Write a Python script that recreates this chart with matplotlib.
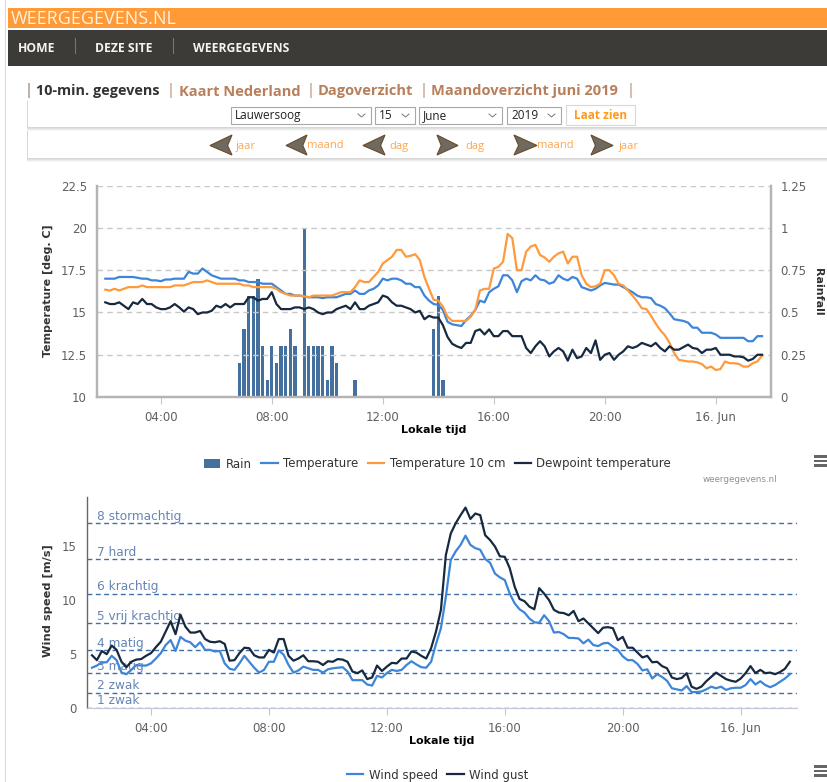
import numpy as np
import matplotlib
matplotlib.use("Agg")
import matplotlib.pyplot as plt
from matplotlib.patches import Rectangle, Polygon

W, H = 828, 782

# local time in hours, one value every 10 min from 02:00 (24 = midnight)
times = np.arange(143) / 6 + 2

temperature = [
    17.0, 17.0, 17.0, 17.1, 17.1, 17.1,
    17.1, 17.05, 17.0, 17.0, 16.9, 16.9,
    16.85, 16.95, 16.95, 17.0, 17.0, 17.0,
    17.4, 17.3, 17.3, 17.6, 17.4, 17.2,
    17.1, 17.0, 17.0, 17.0, 17.0, 16.9,
    16.9, 16.8, 16.8, 16.8, 16.7, 16.7,
    16.7, 16.5, 16.3, 16.1, 16.1, 16.0,
    16.0, 15.95, 15.9, 15.9, 15.9, 15.85,
    15.9, 15.9, 15.9, 16.0, 16.1, 16.1,
    16.3, 16.1, 16.1, 16.3, 16.4, 16.6,
    17.0, 16.9, 17.0, 17.0, 16.9, 16.7,
    16.7, 16.5, 16.5, 16.0, 15.7, 15.5,
    15.45, 15.15, 14.45, 14.3, 14.25, 14.2,
    14.55, 14.8, 15.15, 15.7, 15.6, 16.2,
    16.4, 16.55, 17.2, 17.2, 16.9, 16.2,
    16.85, 17.0, 16.9, 17.2, 16.95, 16.9,
    16.7, 16.8, 17.2, 17.0, 16.9, 17.1,
    17.0, 16.5, 16.4, 16.3, 16.4, 16.6,
    16.75, 16.7, 16.65, 16.65, 16.5, 16.35,
    16.2, 16.0, 15.9, 15.9, 15.85, 15.5,
    15.4, 15.25, 14.95, 14.6, 14.55, 14.5,
    14.4, 14.1, 14.1, 13.8, 13.8, 13.8,
    13.7, 13.5, 13.5, 13.5, 13.5, 13.5,
    13.5, 13.3, 13.3, 13.6, 13.6,
]
temperature_10cm = [
    16.35, 16.3, 16.4, 16.3, 16.4, 16.5,
    16.5, 16.5, 16.6, 16.5, 16.5, 16.5,
    16.5, 16.5, 16.5, 16.6, 16.6, 16.6,
    16.7, 16.8, 16.8, 16.8, 16.9, 16.8,
    16.7, 16.7, 16.7, 16.7, 16.7, 16.7,
    16.6, 16.6, 16.5, 16.5, 16.5, 16.5,
    16.5, 16.4, 16.2, 16.1, 16.0, 16.0,
    16.0, 15.95, 15.9, 16.0, 16.0, 16.0,
    16.0, 16.0, 16.1, 16.2, 16.2, 16.2,
    16.5, 16.9, 16.8, 16.8, 17.1, 17.4,
    17.9, 18.1, 18.3, 18.7, 18.7, 18.3,
    18.35, 18.45, 18.1, 17.1, 16.4, 15.75,
    15.7, 15.35, 14.75, 14.5, 14.5, 14.5,
    14.5, 14.75, 15.15, 16.3, 16.4, 16.4,
    17.6, 17.7, 18.0, 19.65, 19.4, 17.5,
    17.5, 18.6, 18.9, 19.0, 18.4, 18.25,
    18.0, 18.3, 18.5, 18.6, 17.9, 18.3,
    18.3, 17.2, 16.7, 16.5, 16.55, 16.7,
    17.5, 17.5, 17.2, 16.7, 16.6, 16.3,
    16.0, 15.65, 15.25, 15.2, 14.8, 14.35,
    13.95, 13.65, 13.2, 12.6, 12.2, 12.15,
    12.1, 12.1, 12.05, 11.95, 11.7, 11.8,
    11.6, 11.65, 12.1, 12.0, 12.0, 11.95,
    11.8, 11.8, 12.0, 12.1, 12.45,
]
dewpoint = [
    15.6, 15.5, 15.5, 15.6, 15.4, 15.2,
    15.6, 15.5, 15.8, 15.5, 15.5, 15.3,
    15.2, 15.2, 15.3, 15.5, 15.3, 15.05,
    15.3, 15.2, 14.9, 15.0, 15.0, 15.1,
    15.4, 15.3, 15.5, 15.3, 15.5, 15.5,
    15.5, 15.9, 15.9, 15.7, 15.8, 15.8,
    16.2, 15.5, 15.2, 15.2, 15.2, 15.3,
    15.3, 15.2, 15.3, 15.2, 15.0, 14.9,
    15.0, 15.0, 15.2, 15.3, 15.4, 15.2,
    15.6, 15.2, 15.2, 15.4, 15.5, 15.6,
    16.0, 15.9, 15.6, 15.4, 15.4, 15.3,
    15.2, 15.0, 15.1, 14.6, 14.8, 14.7,
    14.7, 14.25, 13.55, 13.15, 13.0, 12.9,
    13.2, 13.2, 13.9, 14.0, 13.7, 14.0,
    13.6, 13.6, 13.9, 13.9, 13.6, 13.6,
    13.6, 12.9, 12.6, 13.0, 13.3, 13.0,
    12.4, 12.7, 12.9, 12.7, 12.15, 12.8,
    12.3, 12.4, 12.9, 12.6, 13.35, 12.2,
    12.5, 12.6, 12.2, 12.5, 12.7, 13.0,
    12.9, 13.0, 13.2, 13.1, 13.0, 13.2,
    12.9, 12.7, 13.0, 12.8, 12.8, 12.95,
    13.1, 12.9, 12.85, 12.6, 12.8, 12.8,
    12.9, 12.5, 12.5, 12.5, 12.4, 12.4,
    12.35, 12.15, 12.25, 12.5, 12.5,
]

rain_times = [6 + 50 / 60, 7, 7 + 10 / 60, 7 + 20 / 60, 7.5, 7 + 40 / 60, 7 + 50 / 60,
              8, 8 + 10 / 60, 8 + 20 / 60, 8.5, 8 + 40 / 60, 8 + 50 / 60,
              9 + 10 / 60, 9 + 20 / 60, 9.5, 9 + 40 / 60, 9 + 50 / 60,
              10, 10 + 10 / 60, 10 + 20 / 60, 11,
              13 + 50 / 60, 14, 14 + 10 / 60]
rain = [0.2, 0.4, 0.6, 0.6, 0.7, 0.3, 0.1,
        0.3, 0.2, 0.3, 0.3, 0.4, 0.3,
        1.0, 0.3, 0.3, 0.3, 0.3,
        0.1, 0.3, 0.2, 0.1,
        0.4, 0.6, 0.1]

wind_speed = [
    3.75, 3.95, 4.25, 4.25, 4.85, 4.45,
    3.3, 3.15, 3.55, 4.0, 3.95, 3.95,
    4.15, 4.6, 5.1, 5.85, 6.3, 5.3,
    6.6, 6.25, 6.1, 5.65, 6.1, 5.4,
    5.4, 5.25, 5.3, 4.15, 3.65, 3.55,
    4.15, 4.85, 4.3, 3.75, 3.3, 3.55,
    4.3, 4.3, 5.35, 4.95, 4.0, 3.3,
    3.5, 3.85, 3.7, 3.55, 3.55, 3.3,
    3.6, 3.7, 3.75, 3.8, 3.4, 2.6,
    2.6, 2.6, 2.2, 2.1, 3.0, 2.85,
    3.25, 3.55, 3.45, 3.55, 4.0, 4.35,
    4.05, 3.8, 3.75, 4.3, 5.95, 7.4,
    10.3, 13.7, 14.5, 15.1, 15.95, 15.1,
    14.8, 14.65, 13.8, 13.45, 12.45, 12.1,
    11.85, 10.6, 9.7, 9.15, 8.85, 8.3,
    7.95, 7.9, 8.6, 8.05, 7.0, 7.05,
    6.85, 6.5, 6.5, 6.45, 6.0, 6.35,
    5.85, 5.75, 6.0, 6.05, 5.7, 5.4,
    4.8, 4.45, 4.45, 4.1, 3.5, 3.6,
    2.75, 3.15, 2.9, 2.55, 1.85, 1.75,
    1.65, 2.05, 1.5, 1.5, 1.55, 1.75,
    2.0, 1.85, 2.0, 1.7, 1.85, 1.9,
    1.9, 2.15, 2.7, 2.2, 2.5, 2.15,
    1.95, 2.15, 2.45, 2.75, 3.15,
]
wind_gust = [
    4.9, 4.45, 5.3, 5.0, 5.8, 5.4,
    4.3, 3.8, 4.3, 4.5, 4.55, 4.85,
    5.1, 5.65, 6.15, 7.1, 8.05, 6.85,
    8.65, 7.55, 7.0, 7.0, 7.15, 6.4,
    6.15, 6.1, 6.2, 5.95, 4.4, 4.45,
    5.1, 5.6, 5.55, 4.9, 4.7, 4.7,
    5.4, 5.15, 6.4, 6.4, 4.85, 4.4,
    4.6, 4.9, 4.35, 4.35, 4.3, 4.0,
    4.35, 4.3, 4.55, 4.5, 4.3, 3.4,
    3.25, 3.5, 2.7, 2.85, 3.95, 3.45,
    3.85, 4.2, 4.15, 4.6, 4.6, 5.25,
    5.15, 4.85, 4.6, 5.55, 7.1, 9.1,
    14.15, 16.15, 17.1, 17.85, 18.55, 17.5,
    18.0, 17.85, 16.0, 15.55, 14.95, 14.05,
    14.0, 12.95, 11.25, 10.1, 9.9, 9.4,
    9.15, 11.1, 10.6, 10.0, 9.1, 8.85,
    8.8, 8.6, 9.0, 8.05, 8.3, 7.85,
    7.4, 6.95, 7.45, 7.5, 7.4, 6.3,
    6.6, 5.6, 5.6, 5.15, 4.7, 4.85,
    4.25, 4.3, 3.9, 3.7, 2.85, 2.7,
    2.8, 3.25, 2.0, 1.8, 2.0, 2.5,
    2.9, 3.3, 3.0, 2.7, 2.55, 2.45,
    2.75, 3.25, 3.9, 3.25, 3.55, 3.25,
    3.3, 3.15, 3.35, 3.65, 4.3,
]

beaufort_levels = [17.1, 13.8, 10.6, 7.85, 5.35, 3.25, 1.45, 0.05]
beaufort_labels = ["8 stormachtig", "7 hard", "6 krachtig", "5 vrij krachtig",
                   "4 matig", "3 matig", "2 zwak", "1 zwak"]

x_ticks = [4, 8, 12, 16, 20, 24]
x_labels = ["04:00", "08:00", "12:00", "16:00", "20:00", "16. Jun"]
temp_ticks = [10, 12.5, 15, 17.5, 20, 22.5]
temp_labels = ["10", "12.5", "15", "17.5", "20", "22.5"]
rain_ticks = [0, 0.25, 0.5, 0.75, 1, 1.25]
rain_labels = ["0", "0.25", "0.5", "0.75", "1", "1.25"]
wind_ticks = [0, 5, 10, 15]

BLUE = "#3d85d8"
ORANGE = "#ff9a3c"
DARK = "#17293f"
BAR = "#44709f"
LABEL = "#5f5f5f"
SANS = ["Open Sans", "DejaVu Sans"]
LINK = "#b87f5a"


def px_axes(left, top, right, bottom):
    return fig.add_axes([left / W, 1 - bottom / H, (right - left) / W, (bottom - top) / H])


fig = plt.figure(figsize=(W / 100, H / 100), dpi=100, facecolor="white")

# page around the charts, in pixel coordinates
page = fig.add_axes([0, 0, 1, 1], zorder=-1)
page.set_xlim(0, W)
page.set_ylim(H, 0)
page.axis("off")
page.add_patch(Rectangle((5, 0), 1.5, H, color="#d8d8d8", lw=0))
page.add_patch(Rectangle((8, 8), W, 20, color="#ff9a36", lw=0))
page.add_patch(Rectangle((8, 30), W, 36, color="#3d3b37", lw=0))
page.text(11, 18.5, "WEERGEGEVENS.NL", color="#fff2e0", fontsize=13, va="center", family=SANS)
for x, label in [(18, "HOME"), (95, "DEZE SITE"), (193, "WEERGEGEVENS")]:
    page.text(x, 48, label, color="#f4f4f4", fontsize=8.7, fontweight="bold", va="center", family=SANS)
for x in [75, 173]:
    page.plot([x, x], [38, 53], color="#77756f", lw=0.8)

for x, color in [(25, "#7a6a5a"), (167, LINK), (307, LINK), (420, LINK), (627, LINK)]:
    page.text(x, 94.5, "|", color=color, fontsize=10.5, va="baseline", family=SANS)
page.text(36, 94.5, "10-min. gegevens", color="#333333", fontsize=10.4, fontweight="bold", va="baseline", family=SANS)
page.text(179, 95.5, "Kaart Nederland", color=LINK, fontsize=10.5, fontweight="bold", va="baseline", family=SANS)
page.text(318, 94.5, "Dagoverzicht", color=LINK, fontsize=10.5, fontweight="bold", va="baseline", family=SANS)
page.text(431, 94.5, "Maandoverzicht juni 2019", color=LINK, fontsize=10.5, fontweight="bold", va="baseline", family=SANS)

for top, bottom in [(101, 127), (131, 158)]:
    for offset, shade in [(4, "#f6f6f6"), (3, "#ececec"), (2, "#e0e0e0"), (1, "#d6d6d6")]:
        page.add_patch(Rectangle((27.5, top), W, bottom - top + offset, color=shade, lw=0))
    page.add_patch(Rectangle((28, top), W, bottom - top, color="white", lw=0))

for left, right, label in [(231, 371, "Lauwersoog"), (375, 415, "15"), (419, 502, "June"), (507, 561, "2019")]:
    page.add_patch(Rectangle((left, 107), right - left, 17, fc="white", ec="#a8a8a8", lw=0.8))
    page.text(left + 4, 115.5, label, color="#222222", fontsize=8.5, va="center", family=SANS)
    page.plot([right - 13, right - 9.5, right - 6], [114, 117, 114], color="#777777", lw=0.7)
page.add_patch(Rectangle((566, 105), 69, 20, fc="white", ec="#d8d8d8", lw=0.8))
page.text(600.5, 115.5, "Laat zien", color="#ff9a1a", fontsize=8.5, fontweight="bold", ha="center", va="center", family=SANS)

for left, right, flip in [(210, 232, False), (286, 307, False), (363, 385, False),
                          (437, 458, True), (514, 537, True), (591, 613, True)]:
    tip, back = (right, left) if flip else (left, right)
    page.add_patch(Polygon([(tip, 145.5), (back, 135), (back + (tip - back) * 0.2, 145.5), (back, 155)],
                           fc="#6f6a60", ec="#6a4a28", lw=0.8))
for x, label in [(246, "jaar"), (325, "maand"), (399, "dag"), (475, "dag"), (555, "maand"), (629, "jaar")]:
    page.text(x, 146, label, color="#ffa64d", fontsize=8, ha="center", va="center", family=SANS)

for y in [455, 765]:
    for offset in [0, 4.5, 9]:
        page.add_patch(Rectangle((814, y + offset), 14, 2.6, color="#666666", lw=0))

# temperature and rain
rain_ax = px_axes(96.7, 185.7, 771, 397)
ax = rain_ax.figure.add_axes(rain_ax.get_position(), zorder=2)
ax.patch.set_visible(False)
rain_ax.yaxis.tick_right()
rain_ax.bar(rain_times, rain, width=0.12, color=BAR, label="Rain", zorder=2)
rain_ax.set_ylim(0, 1.25)
rain_ax.set_yticks(rain_ticks, rain_labels)
rain_ax.set_xlim(1.69, 25.99)
rain_ax.set_xticks([])
ax.plot(times, temperature, color=BLUE, lw=1.6, label="Temperature", solid_joinstyle="round")
ax.plot(times, temperature_10cm, color=ORANGE, lw=1.6, label="Temperature 10 cm", solid_joinstyle="round")
ax.plot(times, dewpoint, color=DARK, lw=1.6, label="Dewpoint temperature", solid_joinstyle="round")
ax.set_xlim(1.69, 25.99)
ax.set_ylim(10, 22.5)
ax.set_yticks(temp_ticks, temp_labels)
ax.set_xticks(x_ticks, x_labels)
for y in temp_ticks[1:]:
    ax.axhline(y, color="#c8c8c8", lw=1, dashes=(4, 3), zorder=0)
for a in [ax, rain_ax]:
    a.spines["top"].set_visible(False)
    for side in ["left", "right", "bottom"]:
        a.spines[side].set_color("#b4b4b4")
        a.spines[side].set_linewidth(1.6)
    a.tick_params(axis="y", length=0, labelsize=8.5, labelcolor=LABEL, pad=7)
ax.tick_params(axis="x", length=5, color="#c0c8d8", width=0.8, labelsize=8.5, labelcolor=LABEL, pad=5)
ax.set_xlabel("Lokale tijd", fontsize=8, fontweight="bold", color="black", labelpad=0.5)
fig.text(48 / W, 1 - 291 / H, "Temperature [deg. C]", rotation=90, fontsize=7.9, fontweight="bold",
         color="#333333", ha="center", va="center")
fig.text(818 / W, 1 - 292 / H, "Rainfall", rotation=270, fontsize=8, fontweight="bold",
         color="#333333", ha="center", va="center")
page.text(103, 201, "Rain total: 8.7 mm", color="#3f5f8a", fontsize=6.3, fontweight="bold", va="center")
page.text(103, 211.5, "Mean temp.: 16 C", color=ORANGE, fontsize=6.3, fontweight="bold", va="center")
page.text(777, 479, "weergegevens.nl", color="#909090", fontsize=6.3, ha="right", va="center")

line_handles, line_labels = ax.get_legend_handles_labels()
bar_handles, bar_labels = rain_ax.get_legend_handles_labels()
fig.legend(bar_handles + line_handles, bar_labels + line_labels, loc="center",
           bbox_to_anchor=(437.5 / W, 1 - 464 / H), ncol=4, frameon=False, fontsize=8.5,
           labelcolor="#333333", handlelength=1.4, handletextpad=0.45, columnspacing=0.8)

# wind
wind_ax = px_axes(86.7, 497.3, 797.3, 708.3)
wind_ax.patch.set_visible(False)
wind_ax.plot(times, wind_speed, color=BLUE, lw=1.6, label="Wind speed", solid_joinstyle="round", zorder=3)
wind_ax.plot(times, wind_gust, color=DARK, lw=1.6, label="Wind gust", solid_joinstyle="round", zorder=4)
wind_ax.set_xlim(1.82, 25.92)
wind_ax.set_ylim(0, 19.5)
wind_ax.set_yticks(wind_ticks)
wind_ax.set_xticks(x_ticks, x_labels)
for level, label in zip(beaufort_levels, beaufort_labels):
    wind_ax.axhline(level, color="#3f6ea5", lw=1, dashes=(3.5, 2.5), zorder=1)
    wind_ax.annotate(label, (0, level), xycoords=("axes fraction", "data"), xytext=(7.2, 0.3),
                     textcoords="offset points", color="#6585b5", fontsize=8.7, va="bottom", zorder=2)
wind_ax.spines["top"].set_visible(False)
wind_ax.spines["right"].set_visible(False)
wind_ax.spines["left"].set_color("#666666")
wind_ax.spines["left"].set_linewidth(1)
wind_ax.spines["bottom"].set_color("#c0c8d8")
wind_ax.tick_params(axis="y", length=0, labelsize=8.5, labelcolor=LABEL, pad=7)
wind_ax.tick_params(axis="x", length=5, color="#c0c8d8", width=0.8, labelsize=8.5, labelcolor=LABEL, pad=5)
wind_ax.set_xlabel("Lokale tijd", fontsize=8, fontweight="bold", color="black", labelpad=0.8)
fig.text(48 / W, 1 - 601 / H, "Wind speed [m/s]", rotation=90, fontsize=8.2, fontweight="bold",
         color="#333333", ha="center", va="center")
fig.legend(*wind_ax.get_legend_handles_labels(), loc="center", bbox_to_anchor=(437.5 / W, 1 - 775 / H),
           ncol=2, frameon=False, fontsize=8.5, labelcolor="#333333", handlelength=1.4,
           handletextpad=0.45, columnspacing=0.8)

fig.savefig("out.png", dpi=100)
